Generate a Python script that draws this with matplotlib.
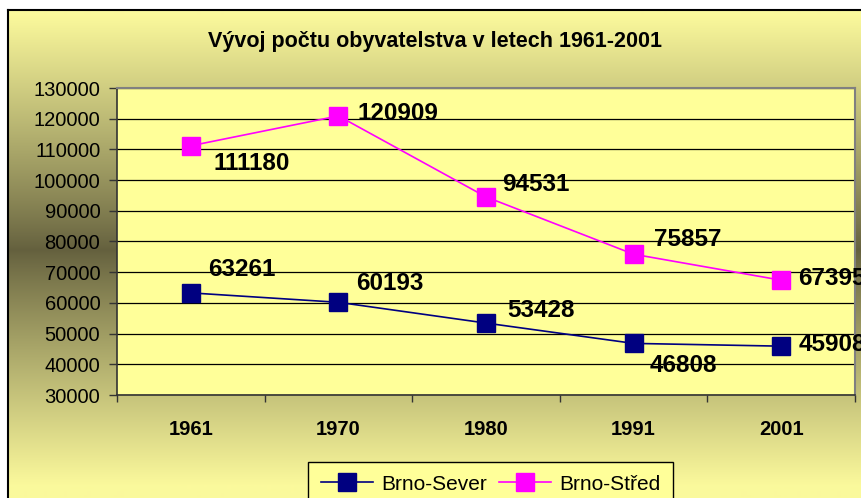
import numpy as np
import matplotlib
matplotlib.use("Agg")
import matplotlib.pyplot as plt
from matplotlib.ticker import FixedLocator

plt.rcParams['font.family'] = ['Liberation Sans', 'DejaVu Sans']

# data
years = ["1961", "1970", "1980", "1991", "2001"]
sever = [63261, 60193, 53428, 46808, 45908]
stred = [111180, 120909, 94531, 75857, 67395]
y_ticks = list(range(30000, 130001, 10000))

# label offsets (pixels) - placed by hand like in the original sheet
sever_off = [(17, 23), (18, 19), (21, 13), (16, -22), (17, 2)]
stred_off = [(23, -18), (19, 2), (16, 12), (20, 15), (17, 2)]

W, H = 861, 498
fig = plt.figure(figsize=(W / 100, H / 100), dpi=100)
fig.patch.set_facecolor('white')

# chart area background: vertical gradient light -> dark -> light
bg = fig.add_axes([8 / W, 0, 1 - 8 / W, (H - 10) / H])
ys = np.arange(10, H)
t = np.clip(np.abs(ys - 250) / 235.0, 0, 1) ** 0.9
light = np.array([251, 249, 156]) / 255.0
dark = np.array([100, 96, 62]) / 255.0
cols = dark + (light - dark) * t[:, None]
bg.imshow(cols[:, None, :], aspect='auto', extent=[0, 1, 0, 1])
bg.set_xticks([])
bg.set_yticks([])
for s in ['right', 'bottom']:
    bg.spines[s].set_visible(False)
for s in ['left', 'top']:
    bg.spines[s].set_color('black')
    bg.spines[s].set_linewidth(1.5)

ax = fig.add_axes([117 / W, (H - 395) / H, (855 - 117) / W, (395 - 88) / H])
ax.set_facecolor('#FFFF99')
x = np.arange(len(years))

ax.plot(x, sever, color='#000080', lw=1.2, marker='s', markersize=13,
        markerfacecolor='#000080', markeredgecolor='#000080', label='Brno-Sever', zorder=3)
ax.plot(x, stred, color='#FF00FF', lw=1.2, marker='s', markersize=13,
        markerfacecolor='#FF00FF', markeredgecolor='#FF00FF', label='Brno-Střed', zorder=3)

for xi, v, off in zip(x, sever, sever_off):
    ax.annotate(str(v), (xi, v), xytext=off, textcoords='offset pixels',
                ha='left', va='center', fontsize=17.5, fontweight='bold',
                annotation_clip=False, zorder=4)
for xi, v, off in zip(x, stred, stred_off):
    ax.annotate(str(v), (xi, v), xytext=off, textcoords='offset pixels',
                ha='left', va='center', fontsize=17.5, fontweight='bold',
                annotation_clip=False, zorder=4)

ax.set_xlim(-0.5, len(years) - 0.5)
ax.set_ylim(30000, 130000)
ax.set_yticks(y_ticks)
ax.set_yticklabels([str(v) for v in y_ticks], fontsize=14.5)
ax.set_xticks(x)
ax.set_xticklabels(years, fontsize=14.5, fontweight='bold')
ax.xaxis.set_minor_locator(FixedLocator(np.arange(-0.5, len(years), 1.0)))
ax.tick_params(axis='x', which='major', length=0, pad=18)
ax.tick_params(axis='x', which='minor', length=5, width=1, color='#333333', direction='out')
ax.tick_params(axis='y', length=6, width=1, color='#333333', pad=6)
ax.grid(axis='y', color='black', lw=0.9, zorder=1)
ax.set_axisbelow(True)

for s in ['top', 'right']:
    ax.spines[s].set_color('#808080')
    ax.spines[s].set_linewidth(1.5)
for s in ['left', 'bottom']:
    ax.spines[s].set_color('#333333')
    ax.spines[s].set_linewidth(1.2)

fig.text(435 / W, 1 - 42 / H, 'Vývoj počtu obyvatelstva v letech 1961-2001',
         ha='center', va='center', fontsize=15.5, fontweight='bold')

leg = fig.legend(loc='upper left', bbox_to_anchor=(308 / W, 1 - 462 / H), ncol=2,
                 fontsize=15, frameon=True, fancybox=False, handlelength=2.5,
                 columnspacing=0.6, handletextpad=0.4, borderpad=0.6,
                 borderaxespad=0)
leg.get_frame().set_facecolor('#FFFF99')
leg.get_frame().set_edgecolor('black')
leg.get_frame().set_linewidth(1.0)
leg.get_frame().set_alpha(1)

fig.savefig('out.png', dpi=100)
